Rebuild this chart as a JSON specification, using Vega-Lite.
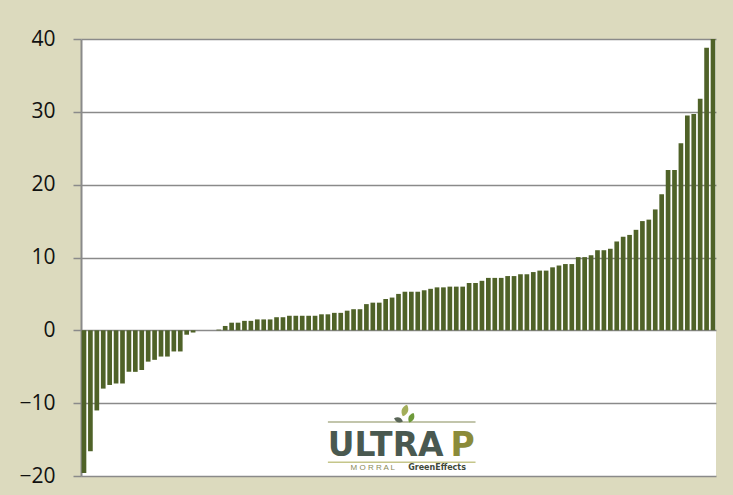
{
  "$schema": "https://vega.github.io/schema/vega-lite/v6.json",
  "width": 635,
  "height": 437,
  "autosize": {"type": "none"},
  "padding": {"left": 81, "top": 39, "right": 17, "bottom": 19},
  "background": "#DCDABE",
  "config": {"view": {"fill": "white", "stroke": "transparent", "strokeWidth": 0}},
  "datasets": {
    "bars": [
      {"idx": 0, "value": -19.6}, {"idx": 1, "value": -16.6}, {"idx": 2, "value": -11.0}, {"idx": 3, "value": -8.0},
      {"idx": 4, "value": -7.5}, {"idx": 5, "value": -7.3}, {"idx": 6, "value": -7.3}, {"idx": 7, "value": -5.7},
      {"idx": 8, "value": -5.7}, {"idx": 9, "value": -5.45}, {"idx": 10, "value": -4.3}, {"idx": 11, "value": -4.05},
      {"idx": 12, "value": -3.6}, {"idx": 13, "value": -3.6}, {"idx": 14, "value": -2.9}, {"idx": 15, "value": -2.9},
      {"idx": 16, "value": -0.6}, {"idx": 17, "value": -0.3}, {"idx": 18, "value": 0}, {"idx": 19, "value": 0},
      {"idx": 20, "value": 0}, {"idx": 21, "value": 0.1}, {"idx": 22, "value": 0.6}, {"idx": 23, "value": 1.05},
      {"idx": 24, "value": 1.05}, {"idx": 25, "value": 1.3}, {"idx": 26, "value": 1.3}, {"idx": 27, "value": 1.5},
      {"idx": 28, "value": 1.5}, {"idx": 29, "value": 1.5}, {"idx": 30, "value": 1.8}, {"idx": 31, "value": 1.8},
      {"idx": 32, "value": 2.0}, {"idx": 33, "value": 2.0}, {"idx": 34, "value": 2.0}, {"idx": 35, "value": 2.0},
      {"idx": 36, "value": 2.0}, {"idx": 37, "value": 2.2}, {"idx": 38, "value": 2.2}, {"idx": 39, "value": 2.4},
      {"idx": 40, "value": 2.4}, {"idx": 41, "value": 2.7}, {"idx": 42, "value": 2.9}, {"idx": 43, "value": 2.9},
      {"idx": 44, "value": 3.6}, {"idx": 45, "value": 3.8}, {"idx": 46, "value": 3.8}, {"idx": 47, "value": 4.3},
      {"idx": 48, "value": 4.5}, {"idx": 49, "value": 5.0}, {"idx": 50, "value": 5.3}, {"idx": 51, "value": 5.3},
      {"idx": 52, "value": 5.3}, {"idx": 53, "value": 5.5}, {"idx": 54, "value": 5.7}, {"idx": 55, "value": 5.9},
      {"idx": 56, "value": 5.9}, {"idx": 57, "value": 6.0}, {"idx": 58, "value": 6.0}, {"idx": 59, "value": 6.0},
      {"idx": 60, "value": 6.5}, {"idx": 61, "value": 6.5}, {"idx": 62, "value": 6.8}, {"idx": 63, "value": 7.2},
      {"idx": 64, "value": 7.2}, {"idx": 65, "value": 7.2}, {"idx": 66, "value": 7.45}, {"idx": 67, "value": 7.45},
      {"idx": 68, "value": 7.7}, {"idx": 69, "value": 7.7}, {"idx": 70, "value": 8.0}, {"idx": 71, "value": 8.2},
      {"idx": 72, "value": 8.2}, {"idx": 73, "value": 8.65}, {"idx": 74, "value": 8.9}, {"idx": 75, "value": 9.1},
      {"idx": 76, "value": 9.1}, {"idx": 77, "value": 10.05}, {"idx": 78, "value": 10.05}, {"idx": 79, "value": 10.3},
      {"idx": 80, "value": 11.0}, {"idx": 81, "value": 11.0}, {"idx": 82, "value": 11.2}, {"idx": 83, "value": 12.2},
      {"idx": 84, "value": 12.85}, {"idx": 85, "value": 13.1}, {"idx": 86, "value": 13.8}, {"idx": 87, "value": 15.0},
      {"idx": 88, "value": 15.2}, {"idx": 89, "value": 16.6}, {"idx": 90, "value": 18.7}, {"idx": 91, "value": 22.0},
      {"idx": 92, "value": 22.0}, {"idx": 93, "value": 25.7}, {"idx": 94, "value": 29.5}, {"idx": 95, "value": 29.7},
      {"idx": 96, "value": 31.8}, {"idx": 97, "value": 38.8}, {"idx": 98, "value": 40.0}
    ]
  },
  "layer": [
    {
      "data": {"name": "bars"},
      "mark": {"type": "bar", "color": "#4F6228"},
      "encoding": {
        "x": {"field": "idx", "type": "ordinal", "scale": {"paddingInner": 0.27, "paddingOuter": 0.1}, "axis": null},
        "y": {
          "field": "value", "type": "quantitative",
          "scale": {"domain": [-20, 40], "nice": false},
          "axis": {
            "values": [-20, -10, 0, 10, 20, 30, 40],
            "title": null,
            "grid": true, "gridColor": "#8A8A8A", "gridWidth": 1.5,
            "domain": true, "domainColor": "#8A8A8A", "domainWidth": 2,
            "ticks": true, "tickSize": 8, "tickColor": "#8A8A8A", "tickWidth": 1.5,
            "labelFont": "Open Sans", "labelFontSize": 21, "labelColor": "#111111", "labelPadding": 18
          }
        }
      }
    },
    {
      "data": {"values": [{}]},
      "mark": {"type": "rule", "color": "#AEB28F", "strokeWidth": 1.5},
      "encoding": {
        "x": {"datum": 38, "type": "ordinal"}, "x2": {"datum": 61},
        "y": {"datum": -12.6, "type": "quantitative"}
      }
    },
    {
      "data": {"values": [{}]},
      "mark": {"type": "rule", "color": "#C5C68A", "strokeWidth": 1.5},
      "encoding": {
        "x": {"datum": 38, "type": "ordinal"}, "x2": {"datum": 61},
        "y": {"datum": -18.1, "type": "quantitative"}
      }
    },
    {
      "data": {"values": [{"t": "ULTRA"}]},
      "mark": {"type": "text", "font": "DejaVu Sans", "fontWeight": "bold", "fontSize": 33, "color": "#4A5950", "baseline": "alphabetic", "align": "center"},
      "encoding": {
        "x": {"datum": 47, "type": "ordinal"},
        "y": {"datum": -17.2, "type": "quantitative"},
        "text": {"field": "t"}
      }
    },
    {
      "data": {"values": [{"t": "P"}]},
      "mark": {"type": "text", "font": "DejaVu Sans", "fontWeight": "bold", "fontSize": 33, "color": "#8B8B3A", "baseline": "alphabetic", "align": "center"},
      "encoding": {
        "x": {"datum": 59, "type": "ordinal"},
        "y": {"datum": -17.2, "type": "quantitative"},
        "text": {"field": "t"}
      }
    },
    {
      "data": {"values": [{"t": "M O R R A L"}]},
      "mark": {"type": "text", "font": "Liberation Sans", "fontSize": 8, "color": "#8A8A5A", "baseline": "alphabetic", "align": "center"},
      "encoding": {
        "x": {"datum": 45, "type": "ordinal"},
        "y": {"datum": -19.2, "type": "quantitative"},
        "text": {"field": "t"}
      }
    },
    {
      "data": {"values": [{"t": "GreenEffects"}]},
      "mark": {"type": "text", "font": "DejaVu Sans", "fontWeight": "bold", "fontSize": 8, "color": "#3F4A3A", "baseline": "alphabetic", "align": "center"},
      "encoding": {
        "x": {"datum": 55, "type": "ordinal"},
        "y": {"datum": -19.2, "type": "quantitative"},
        "text": {"field": "t"}
      }
    },
    {
      "data": {"values": [{"leaf": "a"}]},
      "mark": {"type": "point", "filled": true, "shape": "M0,-1 C0.7,-0.4 0.7,0.4 0,1 C-0.7,0.4 -0.7,-0.4 0,-1 Z", "size": 150, "angle": 20, "color": "#A3AE5A", "opacity": 1},
      "encoding": {
        "x": {"datum": 50, "type": "ordinal"},
        "y": {"datum": -11.0, "type": "quantitative"}
      }
    },
    {
      "data": {"values": [{"leaf": "b"}]},
      "mark": {"type": "point", "filled": true, "shape": "M0,-1 C0.7,-0.4 0.7,0.4 0,1 C-0.7,0.4 -0.7,-0.4 0,-1 Z", "size": 110, "angle": 25, "color": "#6E9A3A", "opacity": 1},
      "encoding": {
        "x": {"datum": 51, "type": "ordinal"},
        "y": {"datum": -12.0, "type": "quantitative"}
      }
    },
    {
      "data": {"values": [{"leaf": "c"}]},
      "mark": {"type": "point", "filled": true, "shape": "M0,-1 C0.7,-0.4 0.7,0.4 0,1 C-0.7,0.4 -0.7,-0.4 0,-1 Z", "size": 90, "angle": -70, "color": "#5A6658", "opacity": 1},
      "encoding": {
        "x": {"datum": 49, "type": "ordinal"},
        "y": {"datum": -12.3, "type": "quantitative"}
      }
    }
  ]
}
